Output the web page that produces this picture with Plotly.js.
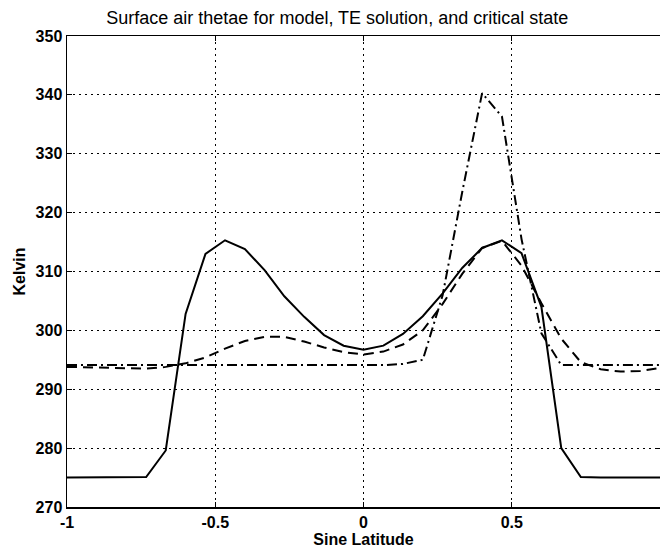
<!DOCTYPE html>
<html>
<head>
<meta charset="utf-8">
<script src="https://cdn.plot.ly/plotly-3.0.1.min.js"></script>
<style>html,body{margin:0;padding:0;background:#fff;}#chart{width:660px;height:552px;}</style>
</head>
<body>
<div id="chart"></div>
<script>
var sineLat = [-1, -0.933, -0.867, -0.8, -0.733, -0.667, -0.6, -0.533, -0.467, -0.4, -0.333, -0.267, -0.2, -0.133, -0.067, 0, 0.067, 0.133, 0.2, 0.267, 0.333, 0.4, 0.467, 0.533, 0.6, 0.667, 0.733, 0.8, 0.867, 0.933, 1];
var modelTheta = [275, 275, 275, 275, 275.1, 279.6, 302.8, 313, 315.3, 313.8, 310.2, 305.8, 302.3, 299.2, 297.4, 296.7, 297.4, 299.4, 302.4, 306.3, 310.6, 314, 315.3, 313.1, 304, 280, 275.1, 275, 275, 275, 275];
var teTheta = [293.8, 293.7, 293.6, 293.5, 293.5, 293.8, 294.4, 295.4, 296.9, 298.2, 298.9, 298.9, 298.1, 297.1, 296.3, 295.9, 296.4, 297.6, 300.0, 304.5, 309.6, 314.0, 315.2, 311.0, 304.6, 298.6, 294.6, 293.4, 293.0, 293.1, 293.6];
var criticalTheta = [294.1, 294.1, 294.1, 294.1, 294.1, 294.1, 294.1, 294.1, 294.1, 294.1, 294.1, 294.1, 294.1, 294.1, 294.1, 294.1, 294.1, 294.3, 295.0, 306.0, 323.5, 340.3, 336.3, 315.5, 299.5, 294.1, 294.1, 294.1, 294.1, 294.1, 294.1];
var xTicks = [-1, -0.5, 0, 0.5, 1];
var xTickText = ['-1', '-0.5', '0', '0.5', '1'];
var yTicks = [270, 280, 290, 300, 310, 320, 330, 340, 350];

var font = 'Liberation Sans, Arial, Helvetica, sans-serif';
var traces = [
  {x: sineLat, y: modelTheta, mode: 'lines', line: {color: '#000', width: 2}},
  {x: sineLat, y: teTheta, mode: 'lines', line: {color: '#000', width: 2, dash: '10px,6px'}},
  {x: sineLat, y: criticalTheta, mode: 'lines', line: {color: '#000', width: 2, dash: '10px,4px,2px,4px'}}
];
var axisCommon = {
  showgrid: true, gridcolor: '#000', gridwidth: 1, griddash: '2px,4px',
  showline: true, linecolor: '#000', linewidth: 1.5, mirror: 'ticks',
  ticks: 'inside', ticklen: 5, tickcolor: '#000', tickwidth: 1,
  zeroline: false, automargin: false,
  tickfont: {family: font, size: 16, color: '#000', weight: 'bold'}
};
var layout = {
  width: 660, height: 552,
  margin: {l: 67, r: 0, t: 36, b: 45},
  paper_bgcolor: '#fff', plot_bgcolor: '#fff',
  showlegend: false,
  title: {text: 'Surface air thetae for model, TE solution, and critical state',
          font: {family: font, size: 18, color: '#000'},
          x: 0.511, xanchor: 'center', y: 0.968, yanchor: 'middle'},
  xaxis: Object.assign({}, axisCommon, {
    range: [-1, 1], tickvals: xTicks, ticktext: xTickText,
    title: {text: 'Sine Latitude', font: {family: font, size: 16, color: '#000', weight: 'bold'}, standoff: 2}
  }),
  yaxis: Object.assign({}, axisCommon, {
    range: [270, 350], tickvals: yTicks,
    title: {text: 'Kelvin', font: {family: font, size: 16, color: '#000', weight: 'bold'}, standoff: 6}
  })
};
Plotly.newPlot('chart', traces, layout, {staticPlot: true, displayModeBar: false});
</script>
</body>
</html>
